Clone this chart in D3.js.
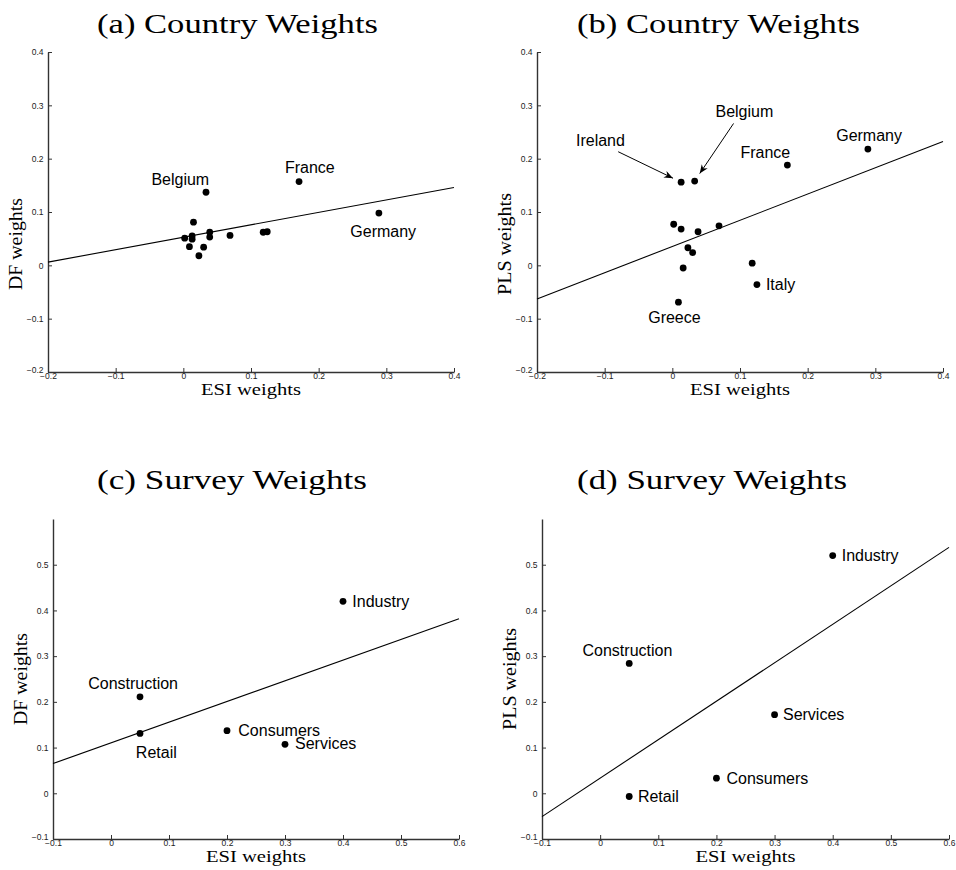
<!DOCTYPE html>
<html><head><meta charset="utf-8">
<script src="https://cdn.jsdelivr.net/npm/d3@7"></script>
<style>body{margin:0;background:#fff;} svg{display:block}</style>
</head><body>
<svg id="chart" width="956" height="870"></svg>
<script>
// ---------------- DATA ----------------
// Panel (a): ESI weights vs DF weights (countries)
const aNames = ["Belgium","France","Germany","","","","","","","","","","","",""];
const aESI   = [0.0335, 0.171, 0.289, 0.015, 0.002, 0.013, 0.013, 0.009, 0.030, 0.023, 0.039, 0.039, 0.069, 0.118, 0.124];
const aDF    = [0.137, 0.157, 0.098, 0.081, 0.051, 0.055, 0.049, 0.035, 0.034, 0.018, 0.062, 0.053, 0.056, 0.062, 0.063];
const aFitX  = [-0.2, 0.4];
const aFitY  = [0.006, 0.146];

// Panel (b): ESI weights vs PLS weights (countries)
const bNames = ["Ireland","Belgium","France","Germany","Italy","Greece","","","","","","","",""];
const bESI   = [0.013, 0.033, 0.170, 0.289, 0.125, 0.009, 0.002, 0.013, 0.038, 0.069, 0.023, 0.030, 0.016, 0.118];
const bPLS   = [0.156, 0.158, 0.188, 0.218, -0.036, -0.069, 0.077, 0.068, 0.063, 0.074, 0.033, 0.024, -0.005, 0.004];
const bFitX  = [-0.2, 0.4];
const bFitY  = [-0.063, 0.232];
const bArrowTargets = ["Ireland", "Belgium"];
const bArrowTailX   = [-0.080, 0.0905];
const bArrowTailY   = [0.213, 0.266];

// Panels (c), (d): surveys
const surveys   = ["Industry","Services","Consumers","Retail","Construction"];
const surveyESI = [0.40, 0.30, 0.20, 0.05, 0.05];
const surveyDF  = [0.420, 0.107, 0.137, 0.131, 0.211];
const surveyPLS = [0.520, 0.172, 0.033, -0.007, 0.284];
const cFitX = [-0.1, 0.6];
const cFitY = [0.065, 0.382];
const dFitX = [-0.1, 0.6];
const dFitY = [-0.051, 0.538];

// Tick values
const countryXTicks = [-0.2, -0.1, 0, 0.1, 0.2, 0.3, 0.4];
const countryYTicks = [-0.2, -0.1, 0, 0.1, 0.2, 0.3, 0.4];
const surveyXTicks  = [-0.1, 0, 0.1, 0.2, 0.3, 0.4, 0.5, 0.6];
const surveyYTicks  = [-0.1, 0, 0.1, 0.2, 0.3, 0.4, 0.5];

const titles = ["(a) Country Weights","(b) Country Weights","(c) Survey Weights","(d) Survey Weights"];
const xLabel = "ESI weights";
const yLabels = ["DF weights","PLS weights","DF weights","PLS weights"];

// ---------------- LAYOUT / STYLE ----------------
const labelLayout = {
  a: { Belgium:{dx:-25.7,dy:-7.3,anchor:"middle"}, France:{dx:10.8,dy:-8.7,anchor:"middle"}, Germany:{dx:4.3,dy:23.7,anchor:"middle"} },
  b: { Ireland:{dx:-80.7,dy:-36.3,anchor:"middle"}, Belgium:{dx:49.7,dy:-64.3,anchor:"middle"},
       France:{dx:-22,dy:-7.3,anchor:"middle"}, Germany:{dx:1.2,dy:-8.3,anchor:"middle"},
       Italy:{dx:9,dy:5.3,anchor:"start"}, Greece:{dx:-4,dy:20.7,anchor:"middle"} },
  c: { Industry:{dx:9.3,dy:5.5,anchor:"start"}, Construction:{dx:-6.9,dy:-7.7,anchor:"middle"},
       Retail:{dx:16.3,dy:24.7,anchor:"middle"}, Consumers:{dx:11.3,dy:5,anchor:"start"}, Services:{dx:10,dy:5,anchor:"start"} },
  d: { Industry:{dx:9,dy:5.5,anchor:"start"}, Construction:{dx:-1.8,dy:-7.3,anchor:"middle"},
       Services:{dx:8.4,dy:5.3,anchor:"start"}, Consumers:{dx:10,dy:6,anchor:"start"}, Retail:{dx:8.7,dy:5.7,anchor:"start"} }
};

const svg = d3.select("#chart");
const defs = svg.append("defs");
defs.append("marker").attr("id","arrowhead").attr("viewBox","0 0 10 10")
  .attr("refX",10).attr("refY",5).attr("markerWidth",9).attr("markerHeight",9)
  .attr("markerUnits","userSpaceOnUse").attr("orient","auto")
  .append("path").attr("d","M0,1 L10,5 L0,9 L3,5 Z").attr("fill","#000");

const tickFmt = v => v === 0 ? "0" : d3.format(".1f")(v);
const serif = "'Liberation Serif', 'DejaVu Serif', serif";
const sans = "'Liberation Sans', Arial, Helvetica, sans-serif";

function panel(cfg) {
  const x = d3.scaleLinear().domain(cfg.xDomain).range([cfg.left, cfg.right]);
  const y = d3.scaleLinear().domain(cfg.yDomain).range([cfg.bottom, cfg.top]);
  const g = svg.append("g");

  // Axes
  const gx = g.append("g").attr("transform",`translate(0,${cfg.bottom})`)
    .call(d3.axisBottom(x).tickValues(cfg.xTicks).tickSizeInner(-4).tickSizeOuter(0)
      .tickPadding(1).tickFormat(tickFmt));
  const gy = g.append("g").attr("transform",`translate(${cfg.left},0)`)
    .call(d3.axisLeft(y).tickValues(cfg.yTicks).tickSizeInner(-4).tickSizeOuter(0)
      .tickPadding(4.5).tickFormat(tickFmt));
  [gx, gy].forEach(a => {
    a.select(".domain").attr("stroke","#333").attr("stroke-width",1.4);
    a.selectAll(".tick line").attr("stroke","#333").attr("stroke-width",1);
    a.selectAll(".tick text").attr("fill","#222").style("font-family",sans).style("font-size","8.5px");
  });
  // lowest y tick label sits slightly raised at the corner, as in the original
  gy.selectAll(".tick text").filter(d => d === cfg.yTicks[0]).attr("dy","0.05em");

  // Fit line
  const lineData = cfg.fitX.map((v,i)=>[v, cfg.fitY[i]]);
  g.append("path").datum(lineData)
    .attr("d", d3.line().x(d=>x(d[0])).y(d=>y(d[1])))
    .attr("fill","none").attr("stroke","#000").attr("stroke-width",1.1);

  // Points
  const pts = cfg.xs.map((v,i)=>({x:v, y:cfg.ys[i], name:cfg.names[i]}));
  g.selectAll("circle.pt").data(pts).join("circle").attr("class","pt")
    .attr("cx",d=>x(d.x)).attr("cy",d=>y(d.y)).attr("r",3.4).attr("fill","#000");

  // Labels
  pts.filter(d=>d.name && cfg.layout[d.name]).forEach(d=>{
    const L = cfg.layout[d.name];
    g.append("text").attr("x", x(d.x)+L.dx).attr("y", y(d.y)+L.dy)
      .attr("text-anchor", L.anchor).style("font-family",sans).style("font-size","16px")
      .attr("fill","#000").text(d.name);
  });

  // Arrows
  if (cfg.arrows) {
    cfg.arrows.targets.forEach((name,i)=>{
      const p = pts.find(q=>q.name===name);
      const x0 = x(cfg.arrows.tx[i]), y0 = y(cfg.arrows.ty[i]);
      const x1 = x(p.x), y1 = y(p.y);
      const len = Math.hypot(x1-x0, y1-y0), gap = 9;
      const ex = x1 - (x1-x0)/len*gap, ey = y1 - (y1-y0)/len*gap;
      g.append("line").attr("x1",x0).attr("y1",y0).attr("x2",ex).attr("y2",ey)
        .attr("stroke","#000").attr("stroke-width",1).attr("marker-end","url(#arrowhead)");
    });
  }

  // Title
  g.append("text").attr("x",cfg.titleX).attr("y",cfg.titleY).attr("text-anchor","middle")
    .style("font-family",serif).style("font-size","27px").attr("fill","#000")
    .attr("textLength",cfg.titleW).attr("lengthAdjust","spacingAndGlyphs").text(cfg.title);
  // X label
  g.append("text").attr("x",(cfg.left+cfg.right)/2).attr("y",cfg.bottom+23).attr("text-anchor","middle")
    .style("font-family",serif).style("font-size","17px").attr("fill","#000")
    .attr("textLength",100).attr("lengthAdjust","spacingAndGlyphs").text(xLabel);
  // Y label
  g.append("text").attr("transform",`translate(${cfg.left-26.5},${cfg.yLabelY}) rotate(-90)`)
    .attr("text-anchor","middle").style("font-family",serif).style("font-size","18px").attr("fill","#000")
    .attr("textLength",cfg.yLabelW).attr("lengthAdjust","spacingAndGlyphs").text(cfg.yLabel);
}

panel({left:48, right:454, top:52, bottom:372, xDomain:[-0.2,0.4], yDomain:[-0.2,0.4],
  xTicks:countryXTicks, yTicks:countryYTicks, xs:aESI, ys:aDF, names:aNames,
  fitX:aFitX, fitY:aFitY, layout:labelLayout.a,
  title:titles[0], titleX:237.5, titleY:33, titleW:281, yLabel:yLabels[0], yLabelY:244, yLabelW:92});

panel({left:537, right:943, top:52, bottom:372, xDomain:[-0.2,0.4], yDomain:[-0.2,0.4],
  xTicks:countryXTicks, yTicks:countryYTicks, xs:bESI, ys:bPLS, names:bNames,
  fitX:bFitX, fitY:bFitY, layout:labelLayout.b,
  arrows:{targets:bArrowTargets, tx:bArrowTailX, ty:bArrowTailY},
  title:titles[1], titleX:718.5, titleY:33, titleW:283, yLabel:yLabels[1], yLabelY:244, yLabelW:102});

panel({left:53, right:459, top:519, bottom:839, xDomain:[-0.1,0.6], yDomain:[-0.1,0.6],
  xTicks:surveyXTicks, yTicks:surveyYTicks, xs:surveyESI, ys:surveyDF, names:surveys,
  fitX:cFitX, fitY:cFitY, layout:labelLayout.c,
  title:titles[2], titleX:232, titleY:489, titleW:270, yLabel:yLabels[2], yLabelY:679, yLabelW:92});

panel({left:542, right:949, top:519, bottom:839, xDomain:[-0.1,0.6], yDomain:[-0.1,0.6],
  xTicks:surveyXTicks, yTicks:surveyYTicks, xs:surveyESI, ys:surveyPLS, names:surveys,
  fitX:dFitX, fitY:dFitY, layout:labelLayout.d,
  title:titles[3], titleX:712, titleY:489, titleW:270, yLabel:yLabels[3], yLabelY:679, yLabelW:102});
</script>
</body></html>
